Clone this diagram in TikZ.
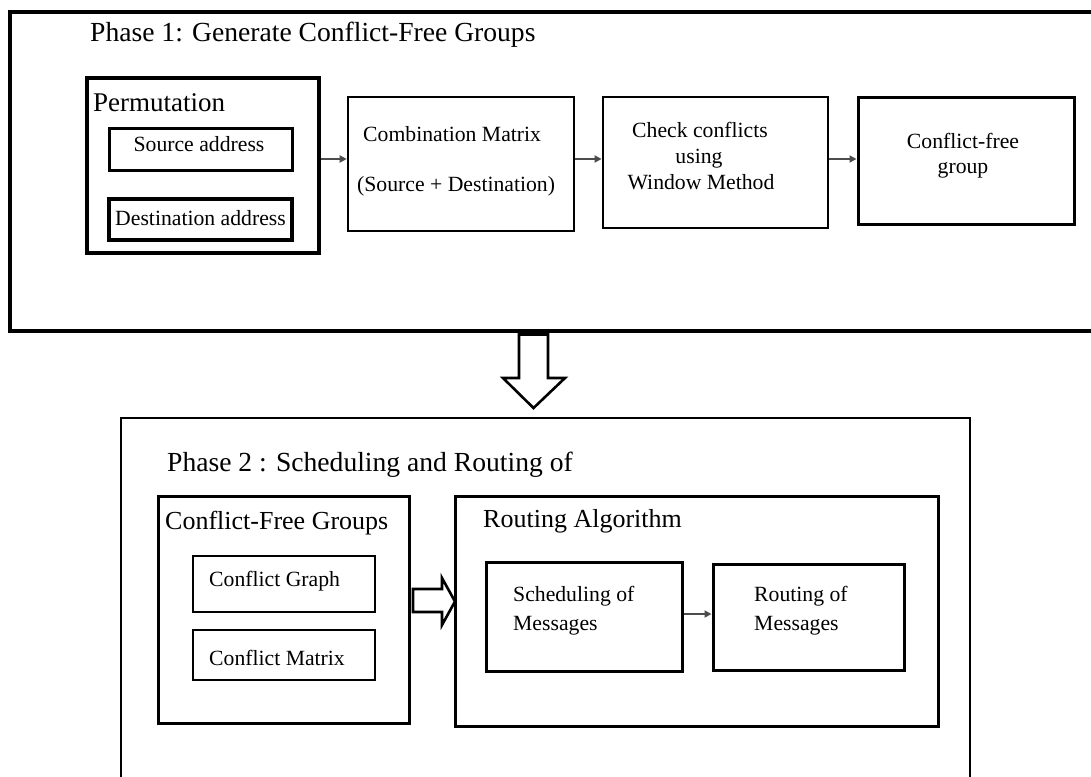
\documentclass[tikz,border=0pt]{standalone}
\usepackage{fontspec}
\setmainfont{Liberation Serif}
\usetikzlibrary{arrows.meta}

\tikzset{
  boxnode/.style={draw=black, rectangle, inner sep=0pt},
  txt/.style={inner sep=0pt, text=black},
  bodytxt/.style={txt, font=\fontsize{21.7}{26}\selectfont},
  headtxt/.style={txt, font=\fontsize{26}{30}\selectfont},
  titletxt/.style={txt, font=\fontsize{27.6}{32}\selectfont},
  flow/.style={draw=black!70, line width=2.6pt,
    -{Triangle[length=7pt,width=7pt]}},
  hollow/.style={draw=black, line width=2.6pt, fill=white, line join=miter},
}

\begin{document}
\begin{tikzpicture}[x=1pt,y=-1pt]
\useasboundingbox (0,0) rectangle (1091,776);
\clip (0,0) rectangle (1091,776);
\fill[white] (0,0) rectangle (1091,776);

% ---------- Phase 1 ----------
\draw[line width=4pt] (1110,12.5) -- (10,12.5) -- (10,331) -- (1110,331);
\node[titletxt, anchor=base west] (t1) at (90,41.5)
  {Phase 1: Generate Conflict-Free Groups};

\node[boxnode, line width=3.5pt, minimum width=232pt, minimum height=175pt]
  (perm) at (203,165.5) {};
\node[headtxt, font=\fontsize{27}{31}\selectfont, anchor=base west] (permt) at (93,111.5) {Permutation};
\node[boxnode, line width=3pt, minimum width=183pt, minimum height=42pt]
  (src) at (200.5,149) {};
\node[bodytxt, anchor=base] (srct) at (199,151.5) {Source address};
\node[boxnode, line width=3.5pt, minimum width=183pt, minimum height=41pt]
  (dst) at (200.5,219.5) {};
\node[bodytxt, anchor=base] (dstt) at (200.5,225.5) {Destination address};

\node[boxnode, line width=2.6pt, minimum width=226pt, minimum height=134pt]
  (comb) at (461,164) {};
\node[bodytxt, anchor=base west] (combt1) at (363,141) {Combination Matrix};
\node[bodytxt, anchor=base west] (combt2) at (357,191.5) {(Source + Destination)};

\node[boxnode, line width=2.8pt, minimum width=225pt, minimum height=131pt]
  (check) at (715.5,162.5) {};
\node[bodytxt, anchor=base] (checkt1) at (700,137) {Check conflicts};
\node[bodytxt, anchor=base] (checkt2) at (699,163) {using};
\node[bodytxt, anchor=base] (checkt3) at (701,189) {Window Method};

\node[boxnode, line width=3pt, minimum width=216pt, minimum height=127pt]
  (cfree) at (966,160.5) {};
\node[bodytxt, anchor=base] (cfreet1) at (963,148) {Conflict-free};
\node[bodytxt, anchor=base] (cfreet2) at (963,173.5) {group};

\draw[flow] (perm.east |- 0,159) -- (comb.west |- 0,159);
\draw[flow] (comb.east |- 0,159) -- (check.west |- 0,159);
\draw[flow] (check.east |- 0,159) -- (cfree.west |- 0,159);

% ---------- block arrow between the phases ----------
\draw[hollow] (519,334.5) -- (548,334.5) -- (548,378) -- (565,378)
  -- (533.5,408) -- (503,378) -- (519,378) -- cycle;

% ---------- Phase 2 ----------
\draw[line width=2.6pt] (121,800) -- (121,418) -- (970,418) -- (970,800);
\node[titletxt, anchor=base west] (t2) at (167,471.5)
  {Phase 2 : Scheduling and Routing of};

\node[boxnode, line width=3pt, minimum width=251pt, minimum height=227pt]
  (cfg) at (283.5,609.5) {};
\node[headtxt, anchor=base west] (cfgt) at (165,529) {Conflict-Free Groups};
\node[boxnode, line width=2.6pt, minimum width=182pt, minimum height=56pt]
  (cgraph) at (284,584) {};
\node[bodytxt, anchor=base west] (cgrapht) at (209,586.5) {Conflict Graph};
\node[boxnode, line width=2.6pt, minimum width=182pt, minimum height=50pt]
  (cmatrix) at (284,655) {};
\node[bodytxt, anchor=base west] (cmatrixt) at (209,665) {Conflict Matrix};

\node[boxnode, line width=3pt, minimum width=483pt, minimum height=230pt]
  (ralg) at (696.5,611) {};
\node[headtxt, anchor=base west] (ralgt) at (483,527.5) {Routing Algorithm};
\node[boxnode, line width=3pt, minimum width=196pt, minimum height=109pt]
  (sched) at (584,616.5) {};
\node[bodytxt, anchor=base west] (schedt1) at (513,601.5) {Scheduling of};
\node[bodytxt, anchor=base west] (schedt2) at (513,630.5) {Messages};
\node[boxnode, line width=3pt, minimum width=191pt, minimum height=106pt]
  (rout) at (808.5,617) {};
\node[bodytxt, anchor=base west] (routt1) at (754,601.5) {Routing of};
\node[bodytxt, anchor=base west] (routt2) at (754,630.5) {Messages};

\draw[flow] (sched.east |- 0,614) -- (rout.west |- 0,614);

% block arrow from the groups box into the routing box
\draw[hollow] (413,589) -- (442,589) -- (442,578) -- (455,601.5)
  -- (442,625) -- (442,612) -- (413,612) -- cycle;
\end{tikzpicture}
\end{document}
